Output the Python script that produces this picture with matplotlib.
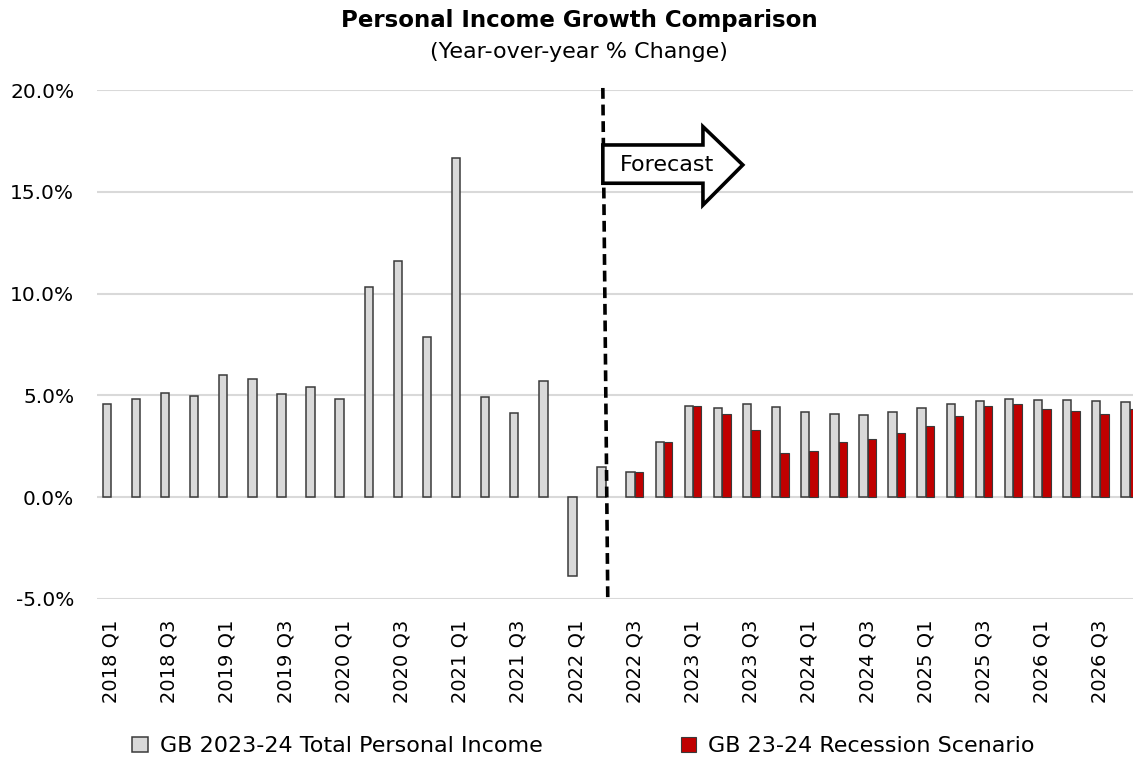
import numpy as np
from matplotlib import pyplot as plt
from matplotlib.patches import Polygon

plt.rcParams['font.family'] = ['DejaVu Sans']

# Quarterly data, 2018 Q1 .. 2026 Q4
quarters = [f'{y} Q{q}' for y in range(2018, 2027) for q in range(1, 5)]
total_income = [4.59, 4.82, 5.10, 4.99, 6.00, 5.79, 5.05, 5.41,
                4.81, 10.31, 11.61, 7.86, 16.64, 4.93, 4.16, 5.70,
                -3.86, 1.46, 1.23, 2.72, 4.49, 4.39, 4.57, 4.42,
                4.19, 4.09, 4.06, 4.17, 4.37, 4.59, 4.72, 4.80,
                4.79, 4.75, 4.72, 4.70]
recession = [np.nan] * 18 + [1.23, 2.72, 4.49, 4.09, 3.30, 2.16,
                             2.26, 2.69, 2.84, 3.15, 3.51, 3.99, 4.50, 4.57,
                             4.34, 4.21, 4.09, 4.32]
series_labels = ['GB 2023-24 Total Personal Income', 'GB 23-24 Recession Scenario']

W, H = 1133, 759
fig = plt.figure(figsize=(W / 100, H / 100), dpi=100)
ax = fig.add_axes([96.5 / W, 160 / H, (W - 96.5) / W, 509 / H])

x = np.arange(len(quarters))
width = 0.29
ax.bar(x - width / 2, total_income, width, color='#d9d9d9', edgecolor='#3a3a3a',
       linewidth=1.1, label=series_labels[0], zorder=3)
ax.bar(x + width / 2, recession, width, color='#c00000', edgecolor='#3a3a3a',
       linewidth=0.8, label=series_labels[1], zorder=3)

ax.set_xlim(-0.5, -0.5 + (W - 96.5) / 29.1)
ax.set_ylim(-5, 20)
ax.set_yticks(np.arange(-5, 21, 5))
ax.set_yticklabels([f'{v:.1f}%' for v in np.arange(-5, 21, 5)], fontsize=14.5)
ax.set_xticks(x[::2])
ax.set_xticklabels(quarters[::2], rotation=90, fontsize=14)
ax.tick_params(axis='y', length=0, pad=16)
ax.tick_params(axis='x', length=0, pad=15)
for s in ax.spines.values():
    s.set_visible(False)
ax.grid(axis='y', color='#d9d9d9', linewidth=1.5, zorder=0)

# forecast divider
ax.plot([16.9, 17.07], [20.1, -5.05], color='black', linewidth=2.6,
        linestyle=(0, (3, 1.6)), clip_on=False, zorder=4)

# forecast block arrow
arrow_pts = [(16.9, 15.42), (16.9, 17.30), (20.34, 17.30), (20.34, 18.20),
             (21.71, 16.32), (20.34, 14.35), (20.34, 15.42)]
ax.add_patch(Polygon(arrow_pts, closed=True, facecolor='white', edgecolor='black',
                     linewidth=2.6, zorder=5, clip_on=False))
ax.text(19.1, 16.32, 'Forecast', fontsize=16, ha='center', va='center', zorder=6)

fig.text(0.511, 0.973, 'Personal Income Growth Comparison', fontsize=16.5,
         fontweight='bold', ha='center', va='center')
fig.text(0.511, 0.931, '(Year-over-year % Change)', fontsize=16, ha='center', va='center')

fig.legend(loc='center', bbox_to_anchor=(0.515, 0.017), ncol=2, frameon=False,
           fontsize=16, handlelength=0.7, handleheight=0.7, columnspacing=6.2,
           handletextpad=0.55)

plt.savefig('out.png', dpi=100)
